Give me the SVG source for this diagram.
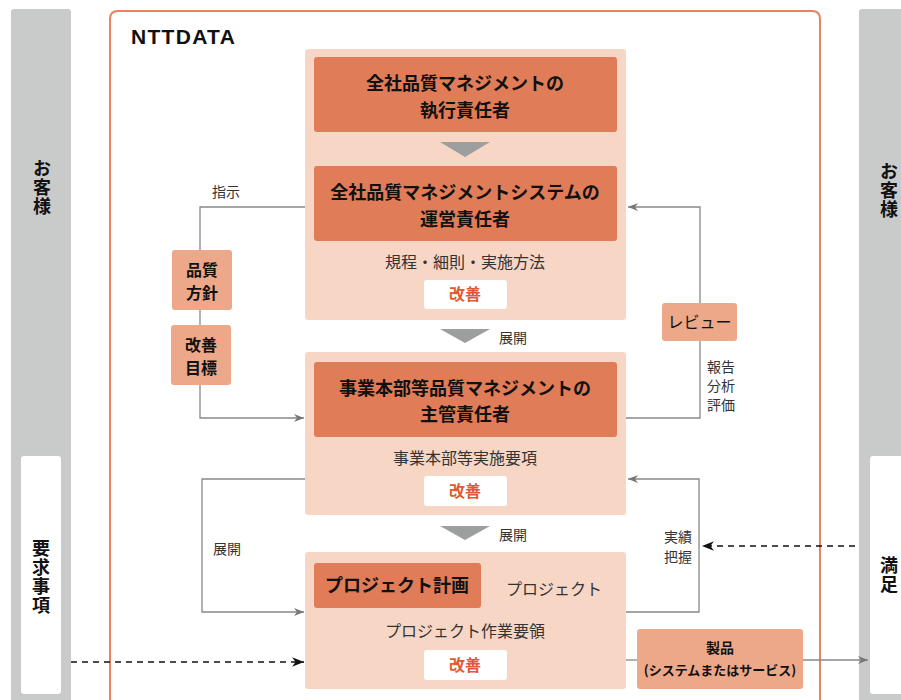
<svg xmlns="http://www.w3.org/2000/svg" width="901" height="700" viewBox="0 0 901 700">
<defs>
<style>
text{font-family:"Noto Sans CJK JP","Noto Sans",sans-serif;fill:#222}
.t{font-weight:bold;font-size:18px;text-anchor:middle;fill:#111}
.s{font-size:16px;text-anchor:middle;fill:#333}
.l{font-size:14px;fill:#333}
.k{font-weight:bold;font-size:16px;text-anchor:middle;fill:#E05A35}
.b{font-weight:bold;font-size:16px;text-anchor:middle;fill:#111}
.v{font-weight:bold;font-size:18px;text-anchor:middle;fill:#111;writing-mode:vertical-rl;letter-spacing:1px}
.panel{fill:#F7D6C6}
.dark{fill:#E07C57}
.light{fill:#ECA888}
.white{fill:#fff}
.gray{fill:#C9CACA}
.con{fill:none;stroke:#888;stroke-width:1.3}
.dash{fill:none;stroke:#111;stroke-width:1.5;stroke-dasharray:6 5}
</style>
<marker id="ag" viewBox="0 0 10 10" refX="10" refY="5" markerWidth="10" markerHeight="10" markerUnits="userSpaceOnUse" orient="auto"><path d="M0,1 L10,5 L0,9 L3,5 Z" fill="#777"/></marker>
<marker id="ab" viewBox="0 0 10 10" refX="10" refY="5" markerWidth="12" markerHeight="12" markerUnits="userSpaceOnUse" orient="auto"><path d="M0,1 L10,5 L0,9 L3,5 Z" fill="#111"/></marker>
</defs>
<rect width="901" height="700" fill="#fff"/>

<g id="customer-left">
<rect class="gray" x="11" y="9" width="60" height="700" rx="3"/>
<text class="v" x="42" y="188">お客様</text>
</g>
<g id="requirements">
<rect class="white" x="21" y="456" width="40" height="238" rx="3"/>
<text class="v" x="41" y="577">要求事項</text>
</g>
<g id="customer-right">
<rect class="gray" x="859" y="9" width="60" height="700" rx="3"/>
<text class="v" x="889" y="191">お客様</text>
</g>
<g id="satisfaction">
<rect class="white" x="870" y="456" width="40" height="238" rx="3"/>
<text class="v" x="889" y="575">満足</text>
</g>

<g id="nttdata">
<path d="M110,710 V19 Q110,11 118,11 H812 Q820,11 820,19 V710" fill="none" stroke="#E58461" stroke-width="2"/>
<text x="131" y="44" style="font-family:'Liberation Sans',sans-serif;font-weight:bold;font-size:21px;letter-spacing:1.3px;fill:#111">NTTDATA</text>
</g>

<g id="panel-company">
<rect class="panel" x="305" y="49" width="321" height="271" rx="3"/>
<rect class="dark" x="314" y="57" width="303" height="75" rx="3"/>
<text class="t" x="465" y="90">全社品質マネジメントの</text>
<text class="t" x="465" y="117">執行責任者</text>
<polygon points="440,142 490,142 465,157" fill="#9D9E9E"/>
<rect class="dark" x="314" y="166" width="303" height="75" rx="3"/>
<text class="t" x="465" y="199">全社品質マネジメントシステムの</text>
<text class="t" x="465" y="226">運営責任者</text>
<text class="s" x="465" y="268">規程・細則・実施方法</text>
<rect class="white" x="424" y="280" width="83" height="29" rx="3"/>
<text class="k" x="465" y="300">改善</text>
</g>

<g id="panel-division">
<rect class="panel" x="305" y="352" width="321" height="163" rx="3"/>
<rect class="dark" x="314" y="362" width="303" height="75" rx="3"/>
<text class="t" x="465" y="395">事業本部等品質マネジメントの</text>
<text class="t" x="465" y="421">主管責任者</text>
<text class="s" x="465" y="464">事業本部等実施要項</text>
<rect class="white" x="424" y="476" width="83" height="30" rx="3"/>
<text class="k" x="465" y="497">改善</text>
</g>

<g id="panel-project">
<rect class="panel" x="305" y="552" width="321" height="137" rx="3"/>
<rect class="dark" x="314" y="563" width="167" height="45" rx="3"/>
<text class="t" x="397" y="592">プロジェクト計画</text>
<text class="s" x="554" y="595">プロジェクト</text>
<text class="s" x="465" y="637">プロジェクト作業要領</text>
<rect class="white" x="424" y="650" width="83" height="30" rx="3"/>
<text class="k" x="465" y="671">改善</text>
</g>

<g id="tri2"><polygon points="440,329 490,329 465,343" fill="#9D9E9E"/><text class="l" x="499" y="343">展開</text></g>
<g id="tri3"><polygon points="440,526 490,526 465,540" fill="#9D9E9E"/><text class="l" x="499" y="540">展開</text></g>

<g id="connectors">
<path class="con" d="M305,207 H200 V250"/>
<path class="con" d="M200,310 V325"/>
<path class="con" d="M200,385 V418 H304" marker-end="url(#ag)"/>
<path class="con" d="M305,479 H202 V612 H304" marker-end="url(#ag)"/>
<path class="con" d="M626,418 H700 V341"/>
<path class="con" d="M700,303 V207 H628" marker-end="url(#ag)"/>
<path class="con" d="M626,612 H699 V479 H628" marker-end="url(#ag)"/>
<path class="con" d="M626,660 H637"/>
<path class="con" d="M803,660 H868" marker-end="url(#ag)"/>
<path class="dash" d="M71,662 H304" marker-end="url(#ab)"/>
<path class="dash" d="M855,546 H702" marker-end="url(#ab)"/>
</g>

<g id="labels">
<text class="l" x="212" y="197">指示</text>
<text class="l" x="213" y="554">展開</text>
<text class="l" x="707" y="372">報告</text>
<text class="l" x="707" y="391">分析</text>
<text class="l" x="707" y="410">評価</text>
<text class="l" x="692" y="542" text-anchor="end">実績</text>
<text class="l" x="692" y="562" text-anchor="end">把握</text>
</g>

<g id="quality-policy">
<rect class="light" x="172" y="250" width="60" height="60" rx="3"/>
<text class="b" x="202" y="276">品質</text>
<text class="b" x="202" y="299">方針</text>
</g>
<g id="improvement-goal">
<rect class="light" x="171" y="325" width="60" height="60" rx="3"/>
<text class="b" x="201" y="351">改善</text>
<text class="b" x="201" y="374">目標</text>
</g>
<g id="review">
<rect class="light" x="662" y="303" width="75" height="38" rx="3"/>
<text class="s" x="699.5" y="328" style="fill:#111">レビュー</text>
</g>
<g id="product">
<rect class="light" x="637" y="629" width="166" height="60" rx="3"/>
<text class="b" x="720" y="653" style="font-size:14px">製品</text>
<text class="b" x="720" y="675" style="font-size:13px">(システムまたはサービス)</text>
</g>
</svg>
